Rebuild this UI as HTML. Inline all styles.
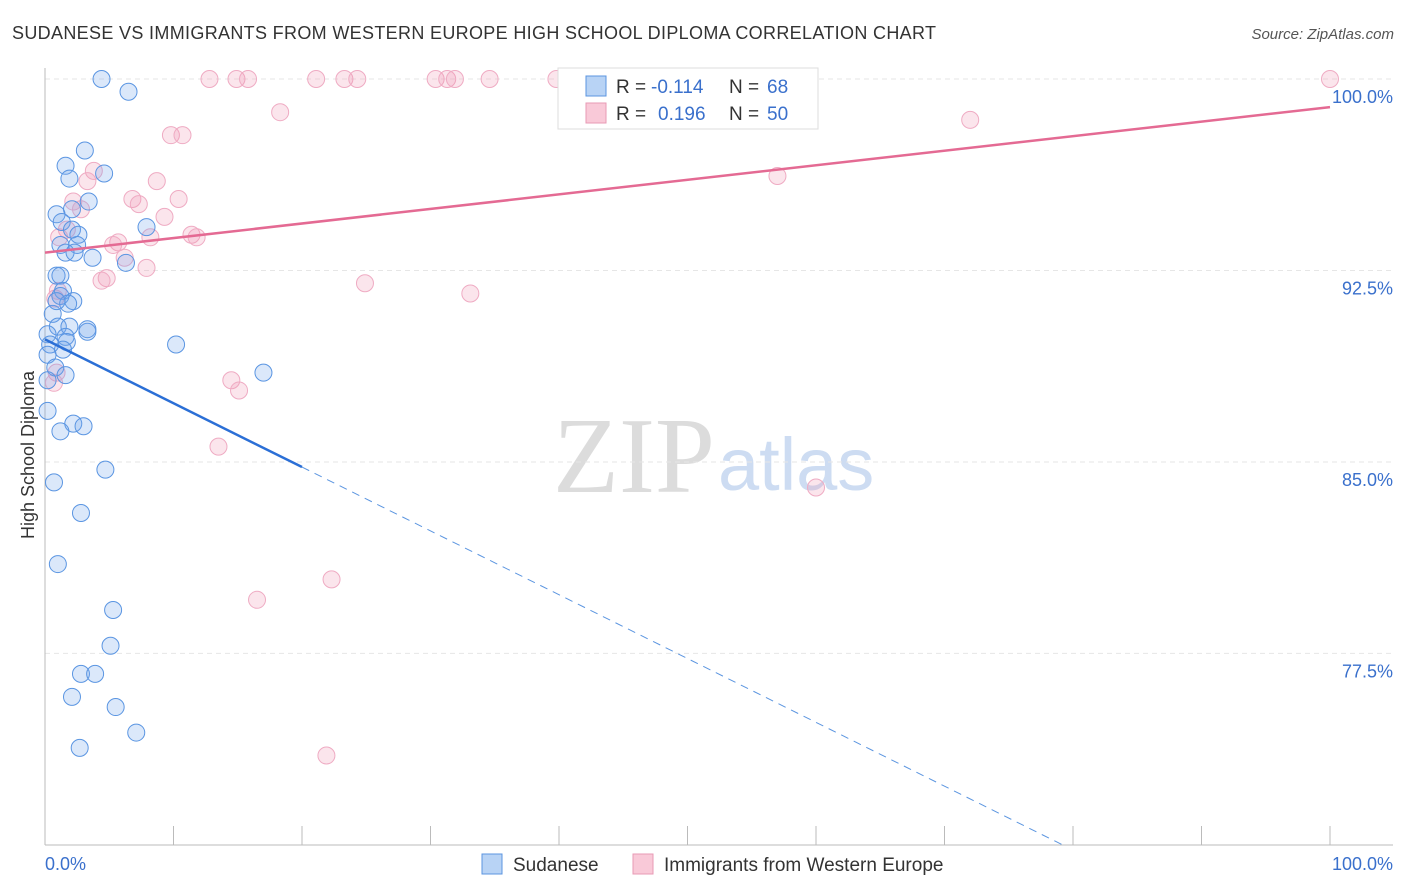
<!DOCTYPE html>
<html><head><meta charset="utf-8"><style>
body{margin:0;background:#fff;font-family:"Liberation Sans",sans-serif}
svg{display:block}
</style></head><body>
<svg id="c" width="1406" height="892" xmlns="http://www.w3.org/2000/svg">
<text x="12" y="39" font-size="18" fill="#333" textLength="924">SUDANESE VS IMMIGRANTS FROM WESTERN EUROPE HIGH SCHOOL DIPLOMA CORRELATION CHART</text>
<text x="1394" y="39" font-size="15" fill="#555" font-style="italic" text-anchor="end">Source: ZipAtlas.com</text>
<text x="715" y="492" font-size="108" fill="#dcdcdc" text-anchor="end" font-family="Liberation Serif">ZIP</text>
<text x="718" y="490" font-size="74" fill="#cddcf2">atlas</text>
<text transform="translate(34,455) rotate(-90)" font-size="18" fill="#333" text-anchor="middle">High School Diploma</text>
<g id="grid"></g><g id="pts"></g><g id="lines"></g>
<g>
<rect x="558" y="68" width="260" height="61" fill="#fff" stroke="#ddd"/>
<rect x="586" y="76" width="20" height="20" fill="#b8d3f5" stroke="#5b95e0"/>
<rect x="586" y="103" width="20" height="20" fill="#f9c9d8" stroke="#e89ab5"/>
<text x="616" y="93" font-size="19" fill="#333">R =</text>
<text x="651" y="93" font-size="19" fill="#3a70cc">-0.114</text>
<text x="729" y="93" font-size="19" fill="#333">N =</text>
<text x="767" y="93" font-size="19" fill="#3a70cc">68</text>
<text x="616" y="120" font-size="19" fill="#333">R =</text>
<text x="658" y="120" font-size="19" fill="#3a70cc">0.196</text>
<text x="729" y="120" font-size="19" fill="#333">N =</text>
<text x="767" y="120" font-size="19" fill="#3a70cc">50</text>
</g>
<g>
<rect x="482" y="854" width="20" height="20" fill="#b8d3f5" stroke="#5b95e0"/>
<text x="513" y="871" font-size="19" fill="#333">Sudanese</text>
<rect x="633" y="854" width="20" height="20" fill="#f9c9d8" stroke="#e89ab5"/>
<text x="664" y="871" font-size="19" fill="#333">Immigrants from Western Europe</text>
</g>
<text x="45" y="870" font-size="18" fill="#3a70cc">0.0%</text>
<text x="1393" y="870" font-size="18" fill="#3a70cc" text-anchor="end">100.0%</text>
</svg>
<script>
const yTicks=[100,92.5,85,77.5];
const yTickLabels=["100.0%","92.5%","85.0%","77.5%"];
const xTicks=[0,10,20,30,40,50,60,70,80,90,100];
const blueX=[4.4,6.5,3.1,1.6,1.9,4.6,3.4,0.9,2.1,1.3,2.1,2.6,1.2,2.5,1.6,2.3,3.7,7.9,6.3,0.9,1.2,1.4,1.2,2.2,1.8,0.6,1.0,1.9,3.3,0.2,1.6,1.7,0.4,1.4,10.2,0.2,0.8,1.6,17.0,0.2,0.2,2.2,3.0,1.2,4.7,0.7,2.8,1.0,5.3,5.1,2.8,3.9,2.1,5.5,7.1,2.7,3.3,0.9];
const blueY=[100,99.5,97.2,96.6,96.1,96.3,95.2,94.7,94.9,94.4,94.1,93.9,93.5,93.5,93.2,93.2,93.0,94.2,92.8,92.3,92.3,91.7,91.5,91.3,91.2,90.8,90.3,90.3,90.1,90.0,89.9,89.7,89.6,89.4,89.6,89.2,88.7,88.4,88.5,88.2,87.0,86.5,86.4,86.2,84.7,84.2,83.0,81.0,79.2,77.8,76.7,76.7,75.8,75.4,74.4,73.8,90.2,91.3];
const pinkX=[12.8,14.9,15.8,21.1,23.3,24.3,30.4,31.3,31.9,34.6,39.8,47.7,100,18.3,72,9.8,10.7,3.8,3.3,8.7,6.8,7.3,10.4,2.2,2.8,9.3,1.7,1.1,11.4,11.8,8.2,5.7,5.3,6.2,7.9,4.8,4.4,24.9,33.1,0.8,1.0,14.5,15.1,0.9,0.7,13.5,57,60,22.3,16.5,21.9];
const pinkY=[100,100,100,100,100,100,100,100,100,100,100,100,100,98.7,98.4,97.8,97.8,96.4,96.0,96.0,95.3,95.1,95.3,95.2,94.9,94.6,94.1,93.8,93.9,93.8,93.8,93.6,93.5,93.0,92.6,92.2,92.1,92.0,91.6,91.4,91.7,88.2,87.8,88.5,88.1,85.6,96.2,84.0,80.4,79.6,73.5];
const blueTrend=[89.8,84.8];
const pinkTrend=[93.2,98.9];
const NS="http://www.w3.org/2000/svg";
const X=v=>45+v*12.85, Y=v=>79+(100-v)*25.53;
function mk(t,a,p){const e=document.createElementNS(NS,t);for(const k in a)e.setAttribute(k,a[k]);p.appendChild(e);return e;}
const grid=document.getElementById('grid');
yTicks.forEach((t,i)=>{
 const l=mk('line',{x1:45,x2:1393,y1:Y(t),y2:Y(t),stroke:'#e6e6e6','stroke-dasharray':'5,4'},grid);
 
 
 const tx=mk('text',{x:1393,y:Y(t)+24,'font-size':18,fill:'#3a70cc','text-anchor':'end'},grid);
 tx.textContent=yTickLabels[i];
 
 
});
const ax=mk('line',{x1:45,x2:1393,y1:845,y2:845,stroke:'#bbb'},grid);


const ay=mk('line',{x1:45,x2:45,y1:68,y2:845,stroke:'#bbb'},grid);


xTicks.forEach(t=>{
 const l=mk('line',{x1:X(t),x2:X(t),y1:826,y2:845,stroke:'#bbb'},grid);
 
 
});
const pts=document.getElementById('pts');
pinkX.forEach((x,i)=>{
 const c=mk('circle',{cx:X(x),cy:Y(pinkY[i]),r:8.5,fill:'rgba(240,150,180,0.25)',stroke:'#efabc3','stroke-width':1},pts);
 
 
});
blueX.forEach((x,i)=>{
 const c=mk('circle',{cx:X(x),cy:Y(blueY[i]),r:8.5,fill:'rgba(110,165,235,0.25)',stroke:'#5a95e2','stroke-width':1},pts);
 
 
});
const ln=document.getElementById('lines');
const slope=(blueTrend[1]-blueTrend[0])/20;
const xEnd=(70-blueTrend[0])/slope;
const p=mk('line',{x1:X(0),y1:Y(pinkTrend[0]),x2:X(100),y2:Y(pinkTrend[1]),stroke:'#e46a93','stroke-width':2.5},ln);


const b=mk('line',{x1:X(0),y1:Y(blueTrend[0]),x2:X(20),y2:Y(blueTrend[1]),stroke:'#2b6fd6','stroke-width':2.5},ln);


const bd=mk('line',{x1:X(20),y1:Y(blueTrend[1]),x2:X(xEnd),y2:Y(70),stroke:'#5b95e0','stroke-width':1,'stroke-dasharray':'8,6'},ln);


</script>
</body></html>
